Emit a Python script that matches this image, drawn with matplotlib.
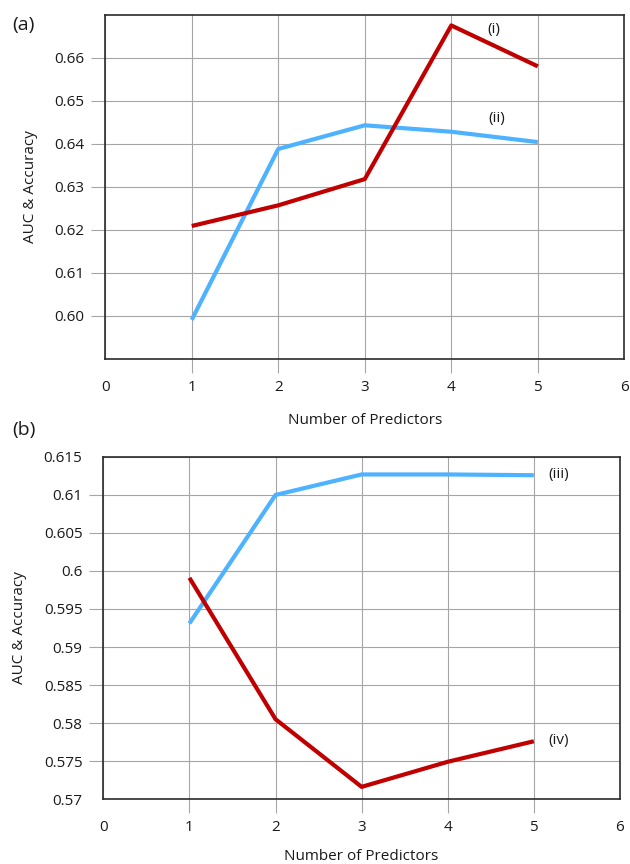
import numpy as np
import matplotlib
matplotlib.use("Agg")
import matplotlib.pyplot as plt

plt.rcParams['font.family'] = ['Open Sans', 'DejaVu Sans']

# data
predictors = [1, 2, 3, 4, 5]
x_ticks = [0, 1, 2, 3, 4, 5, 6]

# panel (a)
a_curve_i = [0.6209, 0.6257, 0.6318, 0.6675, 0.6580]
a_curve_ii = [0.5991, 0.6388, 0.6443, 0.6428, 0.6404]
a_yticks = [0.60, 0.61, 0.62, 0.63, 0.64, 0.65, 0.66]
a_ylabels = ["0.60", "0.61", "0.62", "0.63", "0.64", "0.65", "0.66"]

# panel (b)
b_curve_iii = [0.5931, 0.6100, 0.6127, 0.6127, 0.6126]
b_curve_iv = [0.5991, 0.5805, 0.5716, 0.5749, 0.5776]
b_yticks = [0.57, 0.575, 0.58, 0.585, 0.59, 0.595, 0.60, 0.605, 0.61, 0.615]
b_ylabels = ["0.57", "0.575", "0.58", "0.585", "0.59", "0.595", "0.6", "0.605", "0.61", "0.615"]

RED = "#c00000"
BLUE = "#4db2ff"
GRID = "#a6a6a6"
TEXT = "#1a1a1a"


# common styling for both panels
def style_axes(ax, yticks, ylabels, ylim, xpad):
    ax.set_xlim(0, 6)
    ax.set_ylim(*ylim)
    ax.set_xticks(x_ticks)
    ax.set_xticklabels([str(t) for t in x_ticks])
    ax.set_yticks(yticks)
    ax.set_yticklabels(ylabels)
    ax.grid(True, color=GRID, linewidth=0.8)
    ax.set_axisbelow(True)
    ax.tick_params(axis='both', direction='out', length=10, width=0.8,
                   color=GRID, labelsize=11, labelcolor=TEXT, pad=5)
    # no tick marks on the box edges
    for t in (ax.xaxis.get_major_ticks()[0], ax.xaxis.get_major_ticks()[-1]):
        t.tick1line.set_visible(False)
    for spine in ax.spines.values():
        spine.set_color("#2b2b2b")
        spine.set_linewidth(1.2)
    ax.set_xlabel("Number of Predictors", fontsize=11, color=TEXT, labelpad=xpad)
    ax.set_ylabel("AUC & Accuracy", fontsize=11, color=TEXT, labelpad=12)


fig = plt.figure(figsize=(6.3, 8.64), dpi=100)

ax1 = fig.add_axes([0.167, 0.5845, 0.824, 0.3985])
ax1.plot(predictors, a_curve_ii, color=BLUE, linewidth=3, solid_capstyle='butt')
ax1.plot(predictors, a_curve_i, color=RED, linewidth=3, solid_capstyle='butt')
style_axes(ax1, a_yticks, a_ylabels, (0.59, 0.67), 13)
ax1.text(4.49, 0.6666, "(i)", fontsize=11, color=TEXT, ha='center', va='center')
ax1.text(4.53, 0.6458, "(ii)", fontsize=11, color=TEXT, ha='center', va='center')

ax2 = fig.add_axes([0.164, 0.0752, 0.820, 0.3959])
ax2.plot(predictors, b_curve_iii, color=BLUE, linewidth=3, solid_capstyle='butt')
ax2.plot(predictors, b_curve_iv, color=RED, linewidth=3, solid_capstyle='butt')
style_axes(ax2, b_yticks, b_ylabels, (0.57, 0.615), 10)
for t in (ax2.yaxis.get_major_ticks()[0], ax2.yaxis.get_major_ticks()[-1]):
    t.tick1line.set_visible(False)
ax2.text(5.29, 0.6127, "(iii)", fontsize=11, color=TEXT, ha='center', va='center')
ax2.text(5.29, 0.5777, "(iv)", fontsize=11, color=TEXT, ha='center', va='center')

fig.text(0.019, 0.971, "(a)", fontsize=14, color=TEXT, ha='left', va='center')
fig.text(0.019, 0.502, "(b)", fontsize=14, color=TEXT, ha='left', va='center')

fig.savefig("out.png", dpi=100)
